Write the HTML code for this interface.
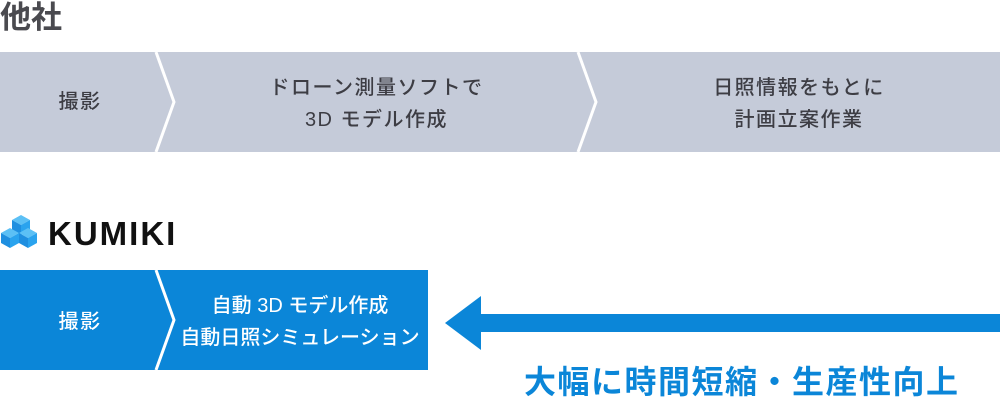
<!DOCTYPE html>
<html><head><meta charset="utf-8"><style>
body{margin:0;width:1000px;height:400px;background:#fff;overflow:hidden;position:relative;font-family:"Liberation Sans","Noto Sans CJK JP",sans-serif}
.t{position:absolute;text-align:center;line-height:32px;font-size:20px;font-weight:500;letter-spacing:1.5px}
</style></head><body>
<svg width="1000" height="400" style="position:absolute;left:0;top:0">
<rect x="0" y="52" width="1000" height="100" fill="#c5cbd9"/>
<polyline points="156,52 174,102 156,152" fill="none" stroke="#fff" stroke-width="3"/>
<polyline points="578,52 596,102 578,152" fill="none" stroke="#fff" stroke-width="3"/>
<rect x="0" y="270" width="428" height="100" fill="#0b86d8"/>
<polyline points="156,270 174,320 156,370" fill="none" stroke="#fff" stroke-width="3"/>
<rect x="480" y="314" width="520" height="18" fill="#0b86d8"/>
<polygon points="445,323 481,296 481,350" fill="#0b86d8"/>
<g>
<polygon points="12,220 21,215 30,220 21,225" fill="#5cc0f5"/>
<polygon points="12,220 21,225 21,235 12,230" fill="#1f8fe0"/>
<polygon points="30,220 21,225 21,235 30,230" fill="#2aa3ee"/>
<polygon points="1,233 10,228 19,233 10,238" fill="#5cc0f5"/>
<polygon points="1,233 10,238 10,248 1,243" fill="#1f8fe0"/>
<polygon points="19,233 10,238 10,248 19,243" fill="#2aa3ee"/>
<polygon points="19,233 28,228 37,233 28,238" fill="#5cc0f5"/>
<polygon points="19,233 28,238 28,248 19,243" fill="#1f8fe0"/>
<polygon points="37,233 28,238 28,248 37,243" fill="#2aa3ee"/>
</g>
</svg>
<div style="position:absolute;left:0;top:0;font-size:31px;font-weight:bold;color:#4a4a4f;line-height:36px">他社</div>
<div style="position:absolute;left:48px;top:215px;font-size:33px;font-weight:bold;color:#111;line-height:38px;letter-spacing:2px">KUMIKI</div>
<div class="t" style="left:0;width:160px;top:86px;color:#3d3d44">撮影</div>
<div class="t" style="left:175px;width:403px;top:72px;color:#3d3d44">ドローン測量ソフトで<br>3D モデル作成</div>
<div class="t" style="left:598px;width:402px;top:72px;color:#3d3d44">日照情報をもとに<br>計画立案作業</div>
<div class="t" style="left:0;width:160px;top:306px;color:#fff">撮影</div>
<div class="t" style="left:168px;width:264px;top:290px;color:#fff;letter-spacing:0">自動 3D モデル作成<br>自動日照シミュレーション</div>
<div style="position:absolute;left:524px;top:362px;font-size:32px;font-weight:bold;color:#0b86d8;line-height:40px;letter-spacing:1.5px">大幅に時間短縮・生産性向上</div>
</body></html>
